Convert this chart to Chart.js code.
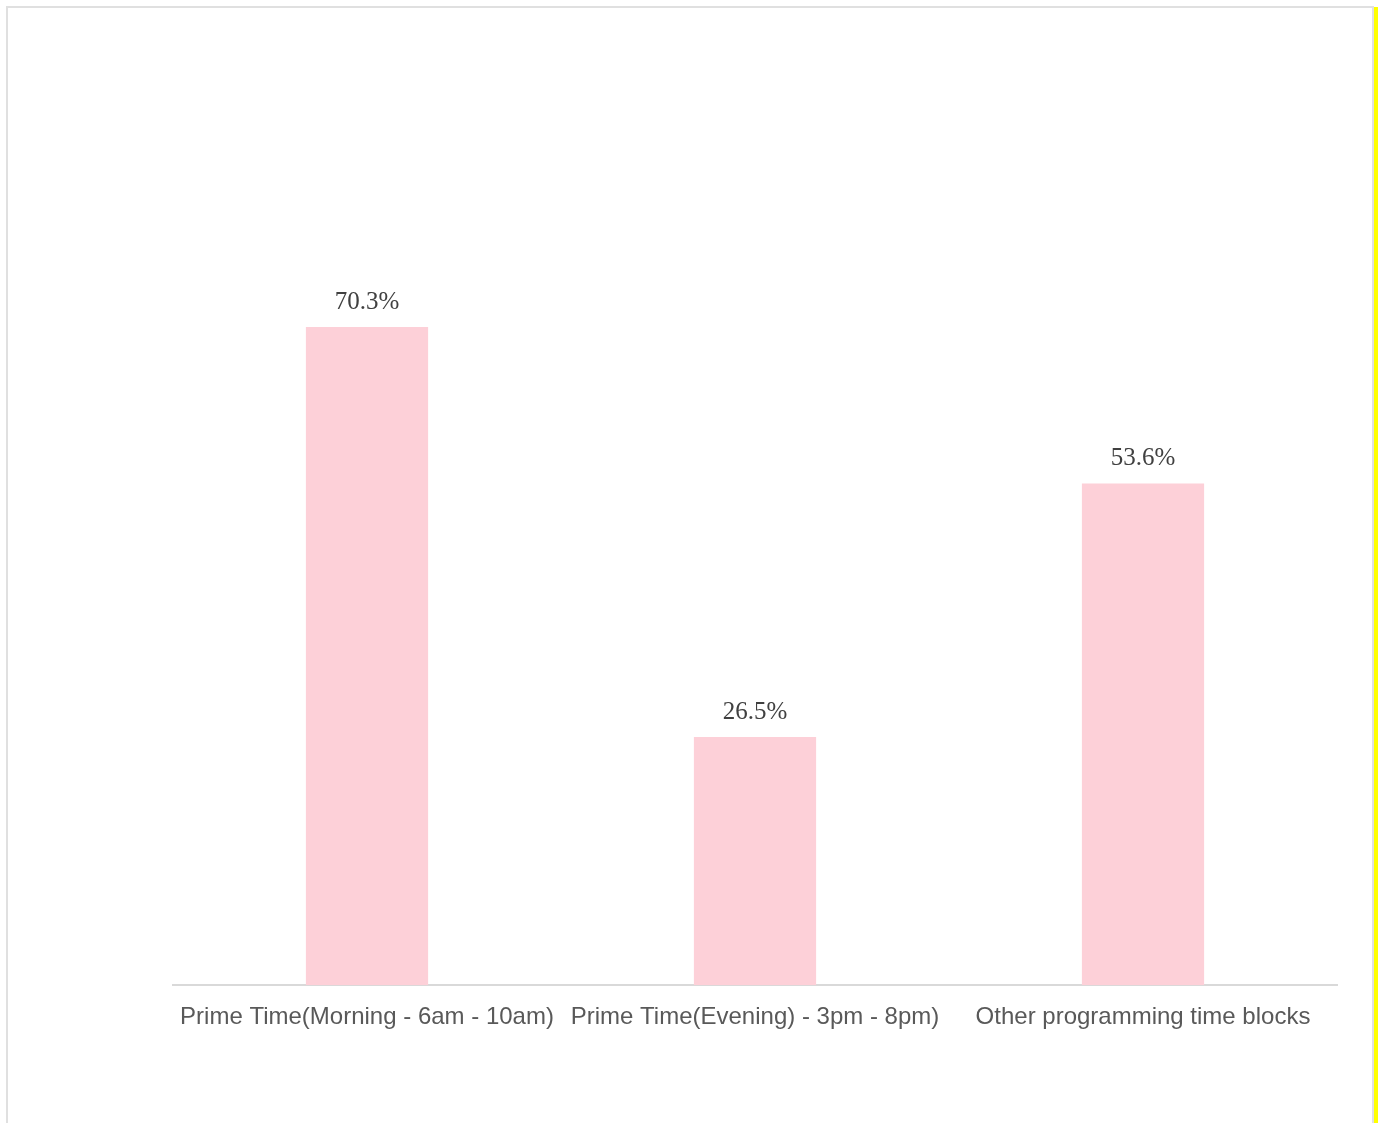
<!DOCTYPE html>
<html>
<head>
<meta charset="utf-8">
<script src="https://cdn.jsdelivr.net/npm/chart.js@4/dist/chart.umd.min.js"></script>
<style>
    html, body { margin: 0; padding: 0; background: #ffffff; overflow: hidden; }
    #frame {
        position: absolute; left: 6px; top: 6px;
        width: 1364px; height: 1200px;
        border: 2px solid #e0e0e0;
        background: #ffffff;
    }
    #edge {
        position: absolute; left: 1374px; top: 7px;
        width: 4px; height: 1116px;
        background: #ffff00;
    }
    #wrap { position: absolute; left: 0; top: 0; width: 1364px; height: 1115px; }
</style>
</head>
<body>
<div id="frame">
    <div id="wrap"><canvas id="slotChart"></canvas></div>
</div>
<div id="edge"></div>
<script>
    // Share of spots by programming time block
    const categories = [
        'Prime Time(Morning - 6am - 10am)',
        'Prime Time(Evening) - 3pm - 8pm)',
        'Other programming time blocks'
    ];
    const shareValues = [70.3, 26.5, 53.6];
    const valueLabels = ['70.3%', '26.5%', '53.6%'];

    // Writes the percentage above each bar
    const barLabels = {
        id: 'barLabels',
        afterDatasetsDraw(chart) {
            const ctx = chart.ctx;
            const meta = chart.getDatasetMeta(0);
            ctx.save();
            ctx.font = "25px 'Liberation Serif', serif";
            ctx.fillStyle = '#404040';
            ctx.textAlign = 'center';
            ctx.textBaseline = 'alphabetic';
            meta.data.forEach(function(bar, i) {
                ctx.fillText(valueLabels[i], bar.x, bar.y - 18);
            });
            ctx.restore();
        }
    };

    const ctx = document.getElementById('slotChart');
    new Chart(ctx, {
        type: 'bar',
        data: {
            labels: categories,
            datasets: [{
                data: shareValues,
                backgroundColor: '#fdd0d8',
                borderWidth: 0,
                categoryPercentage: 1,
                barPercentage: 0.315
            }]
        },
        options: {
            responsive: true,
            maintainAspectRatio: false,
            animation: false,
            layout: {
                padding: { left: 165, right: 35, top: 41, bottom: 73 }
            },
            plugins: {
                legend: { display: false },
                tooltip: { enabled: false }
            },
            scales: {
                x: {
                    grid: { display: false, drawTicks: false },
                    border: { display: true, color: '#d9d9d9', width: 2 },
                    ticks: {
                        color: '#595959',
                        font: { family: "'Liberation Sans', Arial, sans-serif", size: 24 },
                        padding: 18,
                        maxRotation: 0,
                        autoSkip: false
                    }
                },
                y: {
                    display: false,
                    min: 0,
                    max: 100
                }
            }
        },
        plugins: [barLabels]
    });
</script>
</body>
</html>
